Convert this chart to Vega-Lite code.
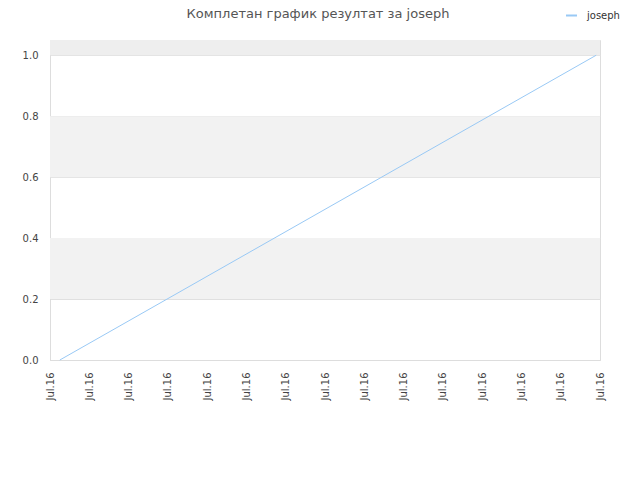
{
  "$schema": "https://vega.github.io/schema/vega-lite/v6.json",
  "width": 550,
  "height": 320,
  "autosize": {"type": "none"},
  "padding": {"left": 50, "top": 40, "right": 40, "bottom": 120},
  "background": "white",
  "config": {
    "font": "DejaVu Sans",
    "view": {"stroke": "#dddddd", "strokeWidth": 1}
  },
  "title": {
    "text": "Комплетан график резултат за joseph",
    "fontSize": 13,
    "fontWeight": "normal",
    "color": "#555555",
    "anchor": "middle",
    "dx": -7,
    "offset": -12
  },
  "datasets": {
    "bands": [
      {"lo": 0.2, "hi": 0.4, "shade": "a"},
      {"lo": 0.6, "hi": 0.8, "shade": "a"},
      {"lo": 1.0, "hi": 1.05, "shade": "b"}
    ],
    "scores": [
      {"date": "2016-07-01T06:00:00", "score": 0.0, "name": "joseph"},
      {"date": "2016-07-14T21:40:00", "score": 1.0, "name": "joseph"}
    ]
  },
  "resolve": {"scale": {"color": "independent"}, "legend": {"color": "independent"}},
  "layer": [
    {
      "data": {"name": "bands"},
      "mark": {"type": "rect"},
      "encoding": {
        "y": {"field": "lo", "type": "quantitative", "scale": {"domain": [0, 1.05], "nice": false}},
        "y2": {"field": "hi"},
        "color": {
          "field": "shade",
          "type": "nominal",
          "scale": {"domain": ["a", "b"], "range": ["#f2f2f2", "#eeeeee"]},
          "legend": null
        }
      }
    },
    {
      "data": {"name": "scores"},
      "mark": {"type": "line", "strokeWidth": 1, "interpolate": "linear"},
      "encoding": {
        "x": {
          "field": "date",
          "type": "temporal",
          "scale": {"domain": ["2016-07-01T00:00:00", "2016-07-15T00:00:00"]},
          "axis": {
            "title": null,
            "format": "%b.%y",
            "tickCount": {"interval": "day", "step": 1},
            "labelAngle": -90,
            "labelAlign": "right",
            "labelBaseline": "middle",
            "labelFontSize": 10,
            "labelColor": "#444444",
            "labelPadding": 12,
            "labelOverlap": false,
            "labelFlush": false,
            "grid": false,
            "ticks": false,
            "domainColor": "#dddddd"
          }
        },
        "y": {
          "field": "score",
          "type": "quantitative",
          "scale": {"domain": [0, 1.05], "nice": false},
          "axis": {
            "title": null,
            "values": [0, 0.2, 0.4, 0.6, 0.8, 1.0],
            "format": ".1f",
            "labelFontSize": 10,
            "labelColor": "#444444",
            "labelPadding": 12,
            "gridColor": "#e0e0e0",
            "ticks": false,
            "domainColor": "#dddddd"
          }
        },
        "color": {
          "field": "name",
          "type": "nominal",
          "scale": {"range": ["#99c9f5"]},
          "legend": {
            "title": null,
            "orient": "none",
            "legendX": 515,
            "legendY": -31,
            "symbolType": "stroke",
            "symbolSize": 120,
            "symbolStrokeWidth": 2,
            "labelOffset": 9,
            "labelFontSize": 10,
            "labelColor": "#333333"
          }
        }
      }
    }
  ]
}
